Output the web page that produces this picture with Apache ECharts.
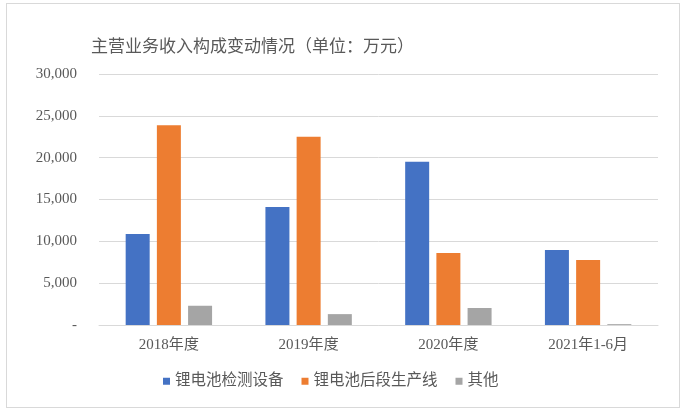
<!DOCTYPE html>
<html>
<head>
<meta charset="utf-8">
<script src="https://cdn.jsdelivr.net/npm/echarts@6/dist/echarts.min.js"></script>
<style>
html, body { margin: 0; padding: 0; background: #fff; }
#box { position: absolute; left: 6px; top: 3px; width: 672px; height: 403px; border: 1px solid #d9d9d9; }
#main { position: absolute; left: 0; top: 0; width: 688px; height: 412px; }
</style>
</head>
<body>
<div id="box"></div>
<div id="main"></div>
<script>
var categories = ['2018年度', '2019年度', '2020年度', '2021年1-6月'];
var seriesNames = ['锂电池检测设备', '锂电池后段生产线', '其他'];
var detectData = [10870, 14100, 19500, 8960];
var lineData = [23860, 22500, 8600, 7770];
var otherData = [2300, 1300, 2030, 100];
var colors = ['#4472C4', '#ED7D31', '#A5A5A5'];

var font = '"Liberation Serif", "Noto Sans CJK SC", serif';
var chart = echarts.init(document.getElementById('main'));

var option = {
    backgroundColor: 'transparent',
    color: colors,
    animation: false,
    title: {
        text: '主营业务收入构成变动情况（单位：万元）',
        left: 86,
        top: 34,
        textStyle: { fontSize: 17, fontWeight: 'normal', color: '#595959', fontFamily: font }
    },
    grid: { left: 99, right: 30, top: 74, bottom: 87 },
    legend: {
        data: seriesNames,
        bottom: 18,
        left: 158,
        itemWidth: 7,
        itemHeight: 7,
        itemGap: 18,
        icon: 'rect',
        textStyle: { fontSize: 15.5, color: '#595959', fontFamily: font }
    },
    xAxis: {
        type: 'category',
        data: categories,
        axisLine: { lineStyle: { color: '#d9d9d9', width: 1 } },
        axisTick: { show: false },
        axisLabel: { fontSize: 15, color: '#595959', fontFamily: font, margin: 13 }
    },
    yAxis: {
        type: 'value',
        min: 0,
        max: 30000,
        interval: 5000,
        axisLine: { show: false },
        axisTick: { show: false },
        splitLine: { lineStyle: { color: '#d9d9d9', width: 1 } },
        axisLabel: {
            fontSize: 15,
            color: '#595959',
            fontFamily: font,
            margin: 22,
            formatter: function (v) {
                return v === 0 ? '-' : v.toLocaleString('en-US');
            }
        }
    },
    series: [
        { name: seriesNames[0], type: 'bar', data: detectData, barWidth: 24, barGap: '30%' },
        { name: seriesNames[1], type: 'bar', data: lineData, barWidth: 24, barGap: '30%' },
        { name: seriesNames[2], type: 'bar', data: otherData, barWidth: 24, barGap: '30%' }
    ]
};
chart.setOption(option);
</script>
</body>
</html>
